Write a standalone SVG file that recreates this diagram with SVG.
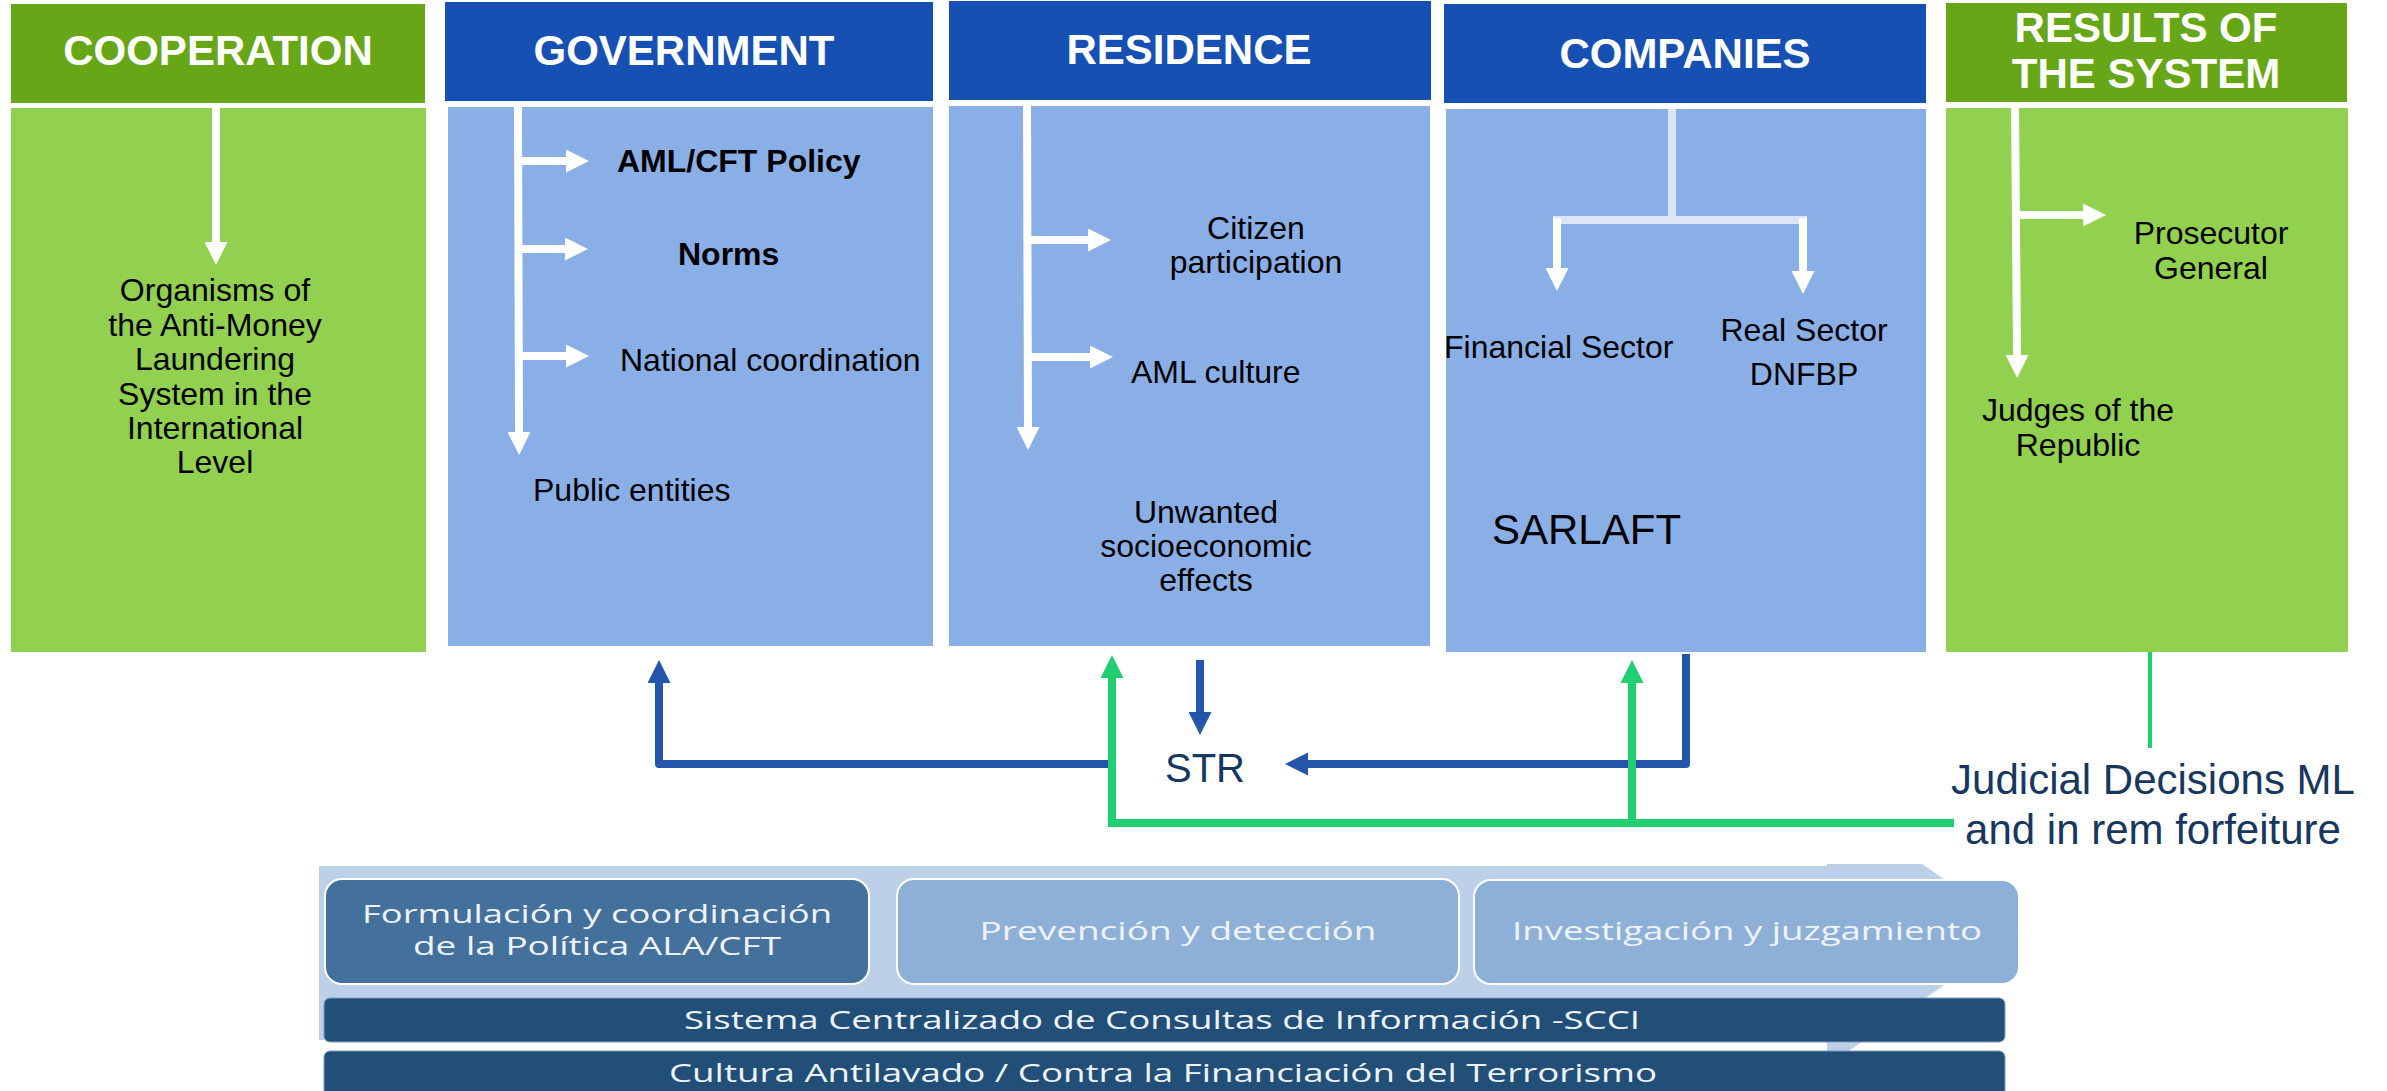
<svg xmlns="http://www.w3.org/2000/svg" width="2387" height="1091" viewBox="0 0 2387 1091">
<defs>
<style>
.hdrB{fill:#1750b3}.hdrG{fill:#67a617}.bodyB{fill:#8aaee6}.bodyG{fill:#92d050}
.ht{font-family:"Liberation Sans",Arial,sans-serif;font-weight:bold;font-size:42px;fill:#fff;text-anchor:middle}
.t{font-family:"Liberation Sans",Arial,sans-serif;font-size:32px;fill:#000}
.tb{font-family:"Liberation Sans",Arial,sans-serif;font-size:32px;font-weight:bold;fill:#000}
.c{text-anchor:middle}
.wl{stroke:#fff;stroke-width:8;fill:none}
.ll{stroke:#dde6f7;stroke-width:8;fill:none}
.bl{stroke:#2456ac;stroke-width:8;fill:none;stroke-linejoin:round}
.gl{stroke:#21cf72;stroke-width:8;fill:none}
.nv{font-family:"Liberation Sans",Arial,sans-serif;fill:#17375e}
.bt{font-family:"Open Sans","Noto Sans",sans-serif;font-size:26px;fill:#eef3f9;text-anchor:middle}
</style>
<marker id="mw" viewBox="0 0 23 23" refX="0" refY="11.5" markerWidth="23" markerHeight="23" markerUnits="userSpaceOnUse" orient="auto"><path d="M0,0L23,11.5L0,23z" fill="#fff"/></marker>
<marker id="mb" viewBox="0 0 23 23" refX="0" refY="11.5" markerWidth="23" markerHeight="23" markerUnits="userSpaceOnUse" orient="auto"><path d="M0,0L23,11.5L0,23z" fill="#2456ac"/></marker>
<marker id="mg" viewBox="0 0 23 23" refX="0" refY="11.5" markerWidth="23" markerHeight="23" markerUnits="userSpaceOnUse" orient="auto"><path d="M0,0L23,11.5L0,23z" fill="#21cf72"/></marker>
</defs>
<rect width="2387" height="1091" fill="#fff"/>

<g id="cooperation">
<rect class="hdrG" x="11" y="4" width="414" height="99"/>
<rect class="bodyG" x="11" y="108" width="415" height="544"/>
<text class="ht" x="218" y="65">COOPERATION</text>
<line class="wl" x1="216" y1="105" x2="216" y2="242" marker-end="url(#mw)"/>
<text class="t c" x="215" y="301">Organisms of</text>
<text class="t c" x="215" y="336">the Anti-Money</text>
<text class="t c" x="215" y="370">Laundering</text>
<text class="t c" x="215" y="405">System in the</text>
<text class="t c" x="215" y="439">International</text>
<text class="t c" x="215" y="473">Level</text>
</g>

<g id="government">
<rect class="hdrB" x="445" y="2" width="488" height="99"/>
<rect class="bodyB" x="448" y="107" width="485" height="539"/>
<text class="ht" x="684" y="65">GOVERNMENT</text>
<line class="wl" x1="518" y1="107" x2="519" y2="432" marker-end="url(#mw)"/>
<line class="wl" x1="521" y1="161" x2="566" y2="161" marker-end="url(#mw)"/>
<line class="wl" x1="521" y1="249" x2="565" y2="249" marker-end="url(#mw)"/>
<line class="wl" x1="521" y1="356" x2="566" y2="356" marker-end="url(#mw)"/>
<text class="tb" x="617" y="172">AML/CFT Policy</text>
<text class="tb" x="678" y="265">Norms</text>
<text class="t" x="620" y="371">National coordination</text>
<text class="t" x="533" y="501">Public entities</text>
</g>

<g id="residence">
<rect class="hdrB" x="949" y="1" width="482" height="99"/>
<rect class="bodyB" x="949" y="106" width="481" height="540"/>
<text class="ht" x="1189" y="64">RESIDENCE</text>
<line class="wl" x1="1027" y1="106" x2="1028" y2="427" marker-end="url(#mw)"/>
<line class="wl" x1="1028" y1="240" x2="1088" y2="240" marker-end="url(#mw)"/>
<line class="wl" x1="1028" y1="357" x2="1090" y2="357" marker-end="url(#mw)"/>
<text class="t c" x="1256" y="239">Citizen</text>
<text class="t c" x="1256" y="273">participation</text>
<text class="t" x="1131" y="383">AML culture</text>
<text class="t c" x="1206" y="523">Unwanted</text>
<text class="t c" x="1206" y="557">socioeconomic</text>
<text class="t c" x="1206" y="591">effects</text>
</g>

<g id="companies">
<rect class="hdrB" x="1444" y="4" width="482" height="99"/>
<rect class="bodyB" x="1446" y="109" width="480" height="543"/>
<text class="ht" x="1685" y="68">COMPANIES</text>
<line class="ll" x1="1672" y1="109" x2="1672" y2="224"/>
<line class="ll" x1="1553" y1="220" x2="1807" y2="220"/>
<line class="wl" x1="1557" y1="218" x2="1557" y2="268" marker-end="url(#mw)"/>
<line class="wl" x1="1803" y1="218" x2="1803" y2="271" marker-end="url(#mw)"/>
<text class="t" x="1444" y="358">Financial Sector</text>
<text class="t c" x="1804" y="341">Real Sector</text>
<text class="t c" x="1804" y="385">DNFBP</text>
<text class="t" x="1492" y="544" style="font-size:42px">SARLAFT</text>
</g>

<g id="results">
<rect class="hdrG" x="1946" y="3" width="401" height="99"/>
<rect class="bodyG" x="1946" y="108" width="402" height="544"/>
<text class="ht" x="2146" y="42">RESULTS OF</text>
<text class="ht" x="2146" y="88">THE SYSTEM</text>
<line class="wl" x1="2015" y1="102" x2="2017" y2="355" marker-end="url(#mw)"/>
<line class="wl" x1="2017" y1="215" x2="2083" y2="215" marker-end="url(#mw)"/>
<text class="t c" x="2211" y="244">Prosecutor</text>
<text class="t c" x="2211" y="279">General</text>
<text class="t c" x="2078" y="421">Judges of the</text>
<text class="t c" x="2078" y="456">Republic</text>
</g>

<g id="str">
<text class="nv" x="1165" y="782" style="font-size:40px">STR</text>
</g>

<g id="judicial">
<text class="nv c" x="2153" y="794" style="font-size:42px">Judicial Decisions ML</text>
<text class="nv c" x="2153" y="844" style="font-size:42px">and in rem forfeiture</text>
</g>

<g id="connectors">
<path class="bl" d="M1114,764H659V683" marker-end="url(#mb)"/>
<path class="bl" d="M1200,660V712" marker-end="url(#mb)"/>
<path class="bl" d="M1686,654V764H1308" marker-end="url(#mb)"/>
<path class="gl" d="M1954,823H1112V678" marker-end="url(#mg)"/>
<path class="gl" d="M1632,823V683" marker-end="url(#mg)"/>
<line x1="2150" y1="652" x2="2150" y2="748" stroke="#21cf72" stroke-width="4"/>
</g>

<g id="process">
<polygon points="319,866 1827,866 1827,864 1922,864 2021,932 1827,1066 1827,1040 319,1040" fill="#bdd0e9"/>
<rect x="325" y="879" width="544" height="105" rx="17" fill="#44709c" stroke="#fff" stroke-width="2"/>
<rect x="897" y="879" width="562" height="105" rx="17" fill="#8fb0d6" stroke="#fff" stroke-width="2"/>
<rect x="1474" y="880" width="545" height="104" rx="17" fill="#8fb0d6" stroke="#fff" stroke-width="2"/>
<text class="bt" x="597" y="923" textLength="470" lengthAdjust="spacingAndGlyphs">Formulación y coordinación</text>
<text class="bt" x="597" y="955" textLength="368" lengthAdjust="spacingAndGlyphs">de la Política ALA/CFT</text>
<text class="bt" x="1178" y="940" textLength="397" lengthAdjust="spacingAndGlyphs">Prevención y detección</text>
<text class="bt" x="1747" y="940" textLength="470" lengthAdjust="spacingAndGlyphs">Investigación y juzgamiento</text>
<rect x="324" y="998" width="1681" height="44" rx="6" fill="#214f78" stroke="#7f9cbb" stroke-width="1"/>
<rect x="324" y="1051" width="1681" height="50" rx="6" fill="#214f78" stroke="#7f9cbb" stroke-width="1"/>
<text class="bt" x="1162" y="1029" textLength="956" lengthAdjust="spacingAndGlyphs">Sistema Centralizado de Consultas de Información -SCCI</text>
<text class="bt" x="1163" y="1082" textLength="988" lengthAdjust="spacingAndGlyphs">Cultura Antilavado / Contra la Financiación del Terrorismo</text>
</g>
</svg>
